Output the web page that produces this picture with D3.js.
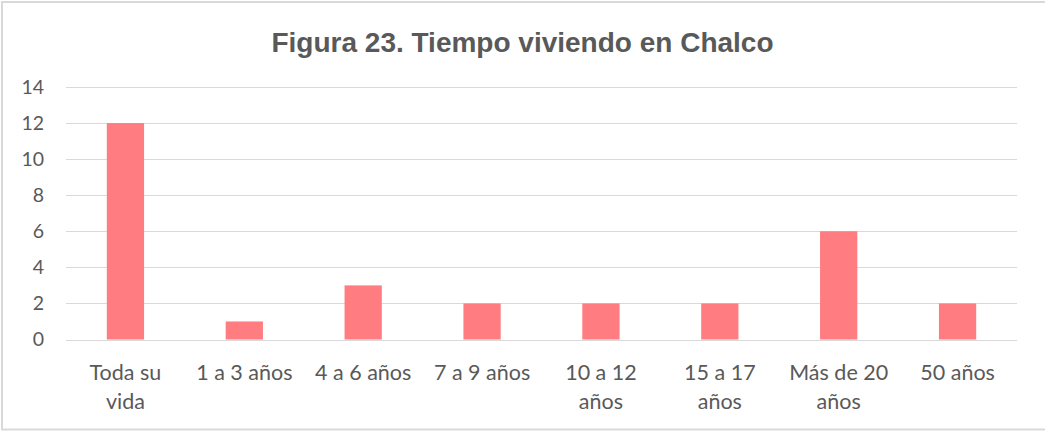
<!DOCTYPE html>
<html>
<head>
<meta charset="utf-8">
<script src="https://cdn.jsdelivr.net/npm/d3@7"></script>
<style>
  body { margin: 0; background: #fff; }
  svg { display: block; }
</style>
</head>
<body>
<div id="chart"></div>
<script>
const categories = ["Toda su vida", "1 a 3 años", "4 a 6 años", "7 a 9 años", "10 a 12 años", "15 a 17 años", "Más de 20 años", "50 años"];
const values = [12, 1, 3, 2, 2, 2, 6, 2];
const tickLabels = [["Toda su", "vida"], ["1 a 3 años"], ["4 a 6 años"], ["7 a 9 años"], ["10 a 12", "años"], ["15 a 17", "años"], ["Más de 20", "años"], ["50 años"]];
const yTicks = [0, 2, 4, 6, 8, 10, 12, 14];
const title = "Figura 23. Tiempo viviendo en Chalco";

const width = 1045, height = 432;
const margin = { top: 87, right: 28, bottom: 92.5, left: 66 };
const textColor = "#595959";
const labelFont = "Lato, 'Open Sans', sans-serif";

const svg = d3.select("#chart").append("svg")
  .attr("width", width)
  .attr("height", height);

// chart border (right edge falls outside the picture)
svg.append("rect")
  .attr("x", 2).attr("y", 2)
  .attr("width", 1050).attr("height", 427.5)
  .attr("fill", "#fff")
  .attr("stroke", "#d9d9d9")
  .attr("stroke-width", 2);

svg.append("text")
  .attr("x", width / 2)
  .attr("y", 52)
  .attr("text-anchor", "middle")
  .attr("font-family", "'Liberation Sans', Arial, sans-serif")
  .attr("font-weight", "bold")
  .attr("font-size", 28)
  .attr("fill", textColor)
  .text(title);

const x = d3.scaleBand()
  .domain(categories)
  .range([margin.left, width - margin.right])
  .padding(0);

const y = d3.scaleLinear()
  .domain([0, 14])
  .range([height - margin.bottom, margin.top]);

// gridlines
svg.append("g")
  .selectAll("line")
  .data(yTicks)
  .join("line")
  .attr("x1", margin.left)
  .attr("x2", width - margin.right)
  .attr("y1", d => Math.round(y(d)) + 0.5)
  .attr("y2", d => Math.round(y(d)) + 0.5)
  .attr("stroke", "#d9d9d9")
  .attr("stroke-width", 1);

// bars (gap width ~219%)
const barW = x.bandwidth() / 3.19;
svg.append("g")
  .attr("fill", "#ff7c80")
  .selectAll("rect")
  .data(values)
  .join("rect")
  .attr("x", (d, i) => x(categories[i]) + (x.bandwidth() - barW) / 2)
  .attr("y", d => y(d))
  .attr("width", barW)
  .attr("height", d => y(0) - y(d));

// y axis labels
const yAxis = svg.append("g")
  .attr("transform", `translate(${margin.left},0)`)
  .call(d3.axisLeft(y).tickValues(yTicks).tickSize(0).tickPadding(22));
yAxis.select(".domain").remove();
yAxis.selectAll("text")
  .attr("font-family", labelFont)
  .attr("font-size", 19.5)
  .attr("fill", textColor);

// x axis labels
const xAxis = svg.append("g")
  .attr("transform", `translate(0,${y(0)})`)
  .call(d3.axisBottom(x).tickSize(0).tickFormat(""));
xAxis.select(".domain").remove();
xAxis.selectAll(".tick text").remove();
xAxis.selectAll(".tick")
  .append("text")
  .attr("text-anchor", "middle")
  .attr("font-family", labelFont)
  .attr("font-size", 21.5)
  .attr("fill", textColor)
  .selectAll("tspan")
  .data((d, i) => tickLabels[i])
  .join("tspan")
  .attr("x", 0)
  .attr("y", (d, j) => 40 + j * 29)
  .text(d => d);
</script>
</body>
</html>
